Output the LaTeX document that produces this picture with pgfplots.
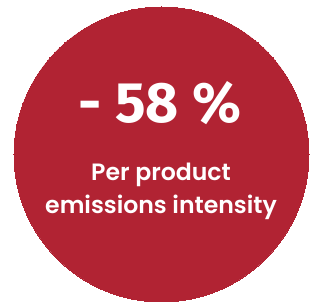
\documentclass[border=0pt]{standalone}
\usepackage{pgfplots}
\pgfplotsset{compat=1.18}
\usepackage{fontspec}
\setmainfont{Poppins}
\newfontfamily\numfont{Fira Sans}
\newfontfamily\labfont{Poppins SemiBold}
\definecolor{circred}{HTML}{B12333}
\begin{document}
\begin{tikzpicture}[x=1bp,y=1bp]
\begin{axis}[
  width=310bp, height=302bp, scale only axis,
  xmin=0, xmax=310, ymin=0, ymax=302,
  axis lines=none, ticks=none, clip=false,
]
\addplot[only marks, mark=*, mark size=147.5bp, mark options={fill=circred, draw=circred, line width=0pt}] coordinates {(161.5,147.5)};
\end{axis}
\useasboundingbox (0,0) rectangle (310,302);
\node[text=white, font=\numfont\bfseries\fontsize{57bp}{60bp}\selectfont, anchor=base] at (160,180) {- 58 \%};
\node[text=white, font=\labfont\fontsize{23.6bp}{33bp}\selectfont, align=center, anchor=base] at (161,89) {Per product\\emissions intensity};
\end{tikzpicture}
\end{document}
